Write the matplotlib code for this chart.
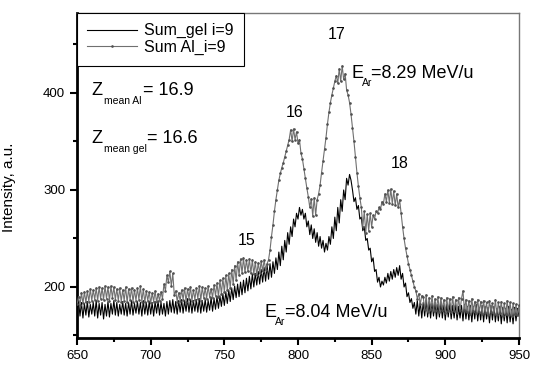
import matplotlib
matplotlib.use("Agg")
import matplotlib.pyplot as plt
import numpy as np

plt.rcParams["font.family"] = ["Liberation Sans", "DejaVu Sans"]

# channel axis (one point per channel)
channel = np.arange(650, 951)

# Sum Al_i=9 (grey, with markers), values read channel by channel
sum_al = [
    182, 190, 181, 194, 183, 195, 184, 196, 185, 198,
    186, 197, 187, 199, 186, 200, 188, 199, 187, 201,
    188, 200, 186, 201, 189, 200, 187, 198, 186, 199,
    185, 197, 186, 200, 184, 198, 187, 199, 185, 197,
    186, 199, 187, 201, 185, 198, 184, 196, 186, 195,
    183, 194, 185, 196, 184, 193, 186, 195, 188, 203,
    196, 212, 205, 216, 201, 214, 192, 196, 185, 194,
    186, 197, 187, 199, 185, 198, 188, 200, 186, 197,
    187, 199, 188, 201, 186, 200, 189, 199, 188, 201,
    190, 198, 189, 202, 191, 204, 190, 207, 193, 209,
    195, 212, 197, 214, 199, 218, 203, 222, 207, 226,
    212, 229, 214, 230, 215, 228, 216, 229, 214, 228,
    213, 226, 212, 225, 214, 227, 216, 228, 218, 224,
    228, 238, 252, 264, 278, 290, 300, 310, 317, 323,
    328, 334, 340, 346, 352, 362, 350, 363, 352, 360,
    348, 352, 338, 332, 322, 312, 302, 293, 282, 291,
    273, 292, 274, 290, 296, 305, 318, 330, 342, 354,
    368, 380, 390, 398, 405, 412, 418, 410, 425, 412,
    428, 414, 420, 403, 398, 390, 378, 364, 350, 334,
    318, 304, 292, 282, 262, 278, 256, 275, 258, 276,
    262, 274, 270, 278, 276, 282, 280, 288, 286, 296,
    288, 300, 287, 301, 286, 299, 284, 296, 282, 290,
    276, 262, 250, 240, 232, 224, 218, 212, 206, 200,
    196, 188, 193, 182, 191, 190, 176, 192, 174, 189,
    177, 191, 175, 188, 176, 190, 174, 189, 176, 187,
    173, 189, 175, 188, 174, 190, 175, 187, 173, 189,
    176, 188, 196, 176, 187, 174, 186, 172, 188, 175,
    185, 173, 187, 174, 185, 172, 186, 173, 184, 171,
    186, 174, 183, 172, 187, 171, 184, 173, 185, 170,
    183, 172, 186, 171, 184, 170, 183, 172, 182, 171,
    181,
]

# Sum_gel i=9 (black line)
sum_gel = [
    175, 186, 170, 184, 168, 183, 171, 185, 169, 182,
    172, 184, 170, 186, 168, 183, 171, 184, 167, 182,
    170, 185, 169, 183, 172, 186, 171, 184, 170, 182,
    172, 185, 171, 183, 170, 184, 172, 186, 171, 183,
    173, 185, 172, 184, 170, 186, 172, 184, 171, 185,
    172, 184, 170, 185, 173, 186, 171, 184, 172, 183,
    170, 185, 172, 186, 174, 187, 173, 185, 172, 186,
    174, 187, 173, 186, 175, 188, 174, 187, 173, 186,
    175, 187, 174, 188, 173, 186, 175, 187, 174, 186,
    176, 189, 175, 188, 177, 190, 178, 191, 180, 193,
    181, 195, 183, 197, 185, 199, 187, 201, 189, 203,
    190, 205, 192, 207, 194, 209, 196, 211, 198, 213,
    200, 214, 202, 216, 203, 218, 205, 220, 206, 222,
    208, 224, 210, 226, 214, 230, 218, 236, 222, 242,
    228, 248, 236, 256, 244, 262, 252, 270, 262, 276,
    270, 282, 274, 280, 270, 276, 262, 268, 254, 264,
    250, 260, 246, 256, 242, 252, 240, 248, 236, 245,
    238, 252, 244, 262, 250, 272, 258, 282, 266, 290,
    278, 300, 290, 312, 305, 316, 310, 300, 288, 292,
    280, 284, 270, 272, 258, 262, 248, 250, 238, 240,
    226, 230, 216, 218, 205, 210, 200, 206, 202, 210,
    204, 214, 206, 216, 208, 218, 210, 220, 212, 222,
    208, 214, 200, 204, 190, 194, 184, 188, 178, 184,
    172, 186, 170, 185, 168, 184, 170, 186, 169, 184,
    168, 183, 170, 184, 167, 182, 169, 183, 168, 181,
    166, 182, 169, 183, 167, 181, 168, 182, 166, 180,
    168, 181, 165, 182, 167, 180, 166, 181, 164, 180,
    167, 182, 165, 179, 166, 181, 164, 180, 167, 179,
    163, 181, 166, 180, 164, 178, 165, 180, 162, 179,
    165, 178, 163, 180, 164, 177, 162, 179, 165, 178,
    170,
]

peak_labels = ["15", "16", "17", "18"]
peak_x = [765, 798, 826, 869]
peak_y = [248, 380, 460, 327]

fig = plt.figure(figsize=(5.35, 3.70), dpi=100)
ax = fig.add_axes([0.144, 0.0865, 0.826, 0.8785])

ax.plot(channel, sum_gel, color="black", lw=0.8, label="Sum_gel i=9", zorder=2)
ax.plot(channel, sum_al, color="#707070", lw=0.8, marker="o", markersize=1.9,
        markerfacecolor="#505050", markeredgewidth=0,
        label="Sum Al_i=9", zorder=3)

ax.set_xlim(650, 950)
ax.set_ylim(147.4, 482.5)
ax.set_xticks(np.arange(650, 951, 50))
ax.set_xticks(np.arange(675, 951, 50), minor=True)
ax.set_yticks([200, 300, 400])
ax.set_yticks([150, 250, 350, 450], minor=True)
ax.tick_params(which="major", direction="out", length=5, width=1.5, labelsize=9.5)
ax.tick_params(which="minor", direction="out", length=3, width=1.5)

for side in ("left", "bottom"):
    ax.spines[side].set_linewidth(2)
    ax.spines[side].set_color("black")
for side in ("top", "right"):
    ax.spines[side].set_linewidth(1)
    ax.spines[side].set_color("#777777")

ax.set_ylabel("Intensity, a.u.", fontsize=11)
ax.yaxis.set_label_coords(-0.138, 0.465)

leg = ax.legend(loc="upper left", borderaxespad=0, fancybox=False,
                edgecolor="black", framealpha=1, fontsize=11.5,
                handlelength=3.1, borderpad=0.65, labelspacing=0.1,
                handletextpad=0.45, markerscale=1.0)
leg.get_frame().set_linewidth(0.8)

for lab, px, py in zip(peak_labels, peak_x, peak_y):
    ax.text(px, py, lab, fontsize=11.5, ha="center", va="center")

# E_Ar annotations: main letter, small subscript, rest of text
ax.text(836.5, 415, "E", fontsize=13, va="baseline")
ax.text(843.5, 407, "Ar", fontsize=7.5, va="baseline")
ax.text(849.6, 415, "=8.29 MeV/u", fontsize=13, va="baseline")

ax.text(777.6, 169.5, "E", fontsize=13, va="baseline")
ax.text(784.5, 161, "Ar", fontsize=7.5, va="baseline")
ax.text(791.2, 169.5, "=8.04 MeV/u", fontsize=13, va="baseline")

# mean Z annotations
ax.text(660, 398, "Z", fontsize=13, va="baseline")
ax.text(668.3, 389, "mean Al", fontsize=7.5, va="baseline")
ax.text(695, 398, "= 16.9", fontsize=13, va="baseline")

ax.text(660, 348, "Z", fontsize=13, va="baseline")
ax.text(668.3, 339, "mean gel", fontsize=7.5, va="baseline")
ax.text(697.3, 348, "= 16.6", fontsize=13, va="baseline")

fig.savefig("out.png", dpi=100)
